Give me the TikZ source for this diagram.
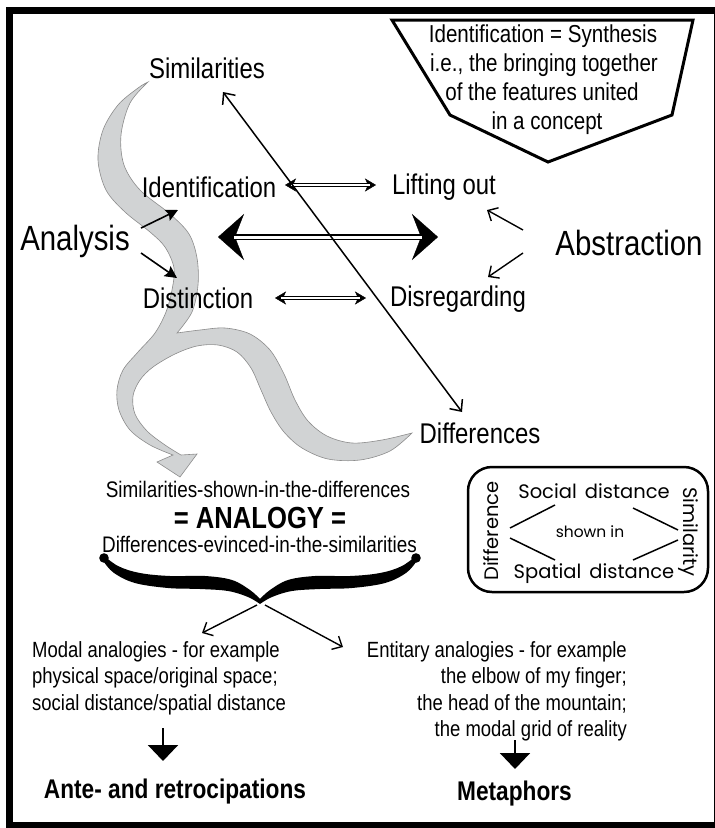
\documentclass[tikz,border=0pt]{standalone}
\usepackage{fontspec}
\setmainfont{Liberation Sans}[FakeStretch=0.84]
\newfontfamily\geo{Poppins}
\usetikzlibrary{arrows.meta}
\definecolor{swoosh}{HTML}{D1D3D4}
\definecolor{swooshedge}{HTML}{8C8C8C}
\begin{document}
\begin{tikzpicture}[x=1pt,y=-1pt,
  lbl/.style={anchor=base, inner sep=0pt, font=\fontsize{28.5}{30}\selectfont},
  bigl/.style={anchor=base, inner sep=0pt, font=\fontsize{35}{38}\selectfont},
  boxt/.style={anchor=base, inner sep=0pt, font=\fontsize{24.5}{29}\selectfont},
  midt/.style={anchor=base, inner sep=0pt, font=\fontsize{22.5}{26}\selectfont},
  leftt/.style={anchor=base west, inner sep=0pt, font=\fontsize{22}{26}\selectfont},
  rightt/.style={anchor=base east, inner sep=0pt, font=\fontsize{22}{26}\selectfont},
  boldt/.style={anchor=base, inner sep=0pt, font=\bfseries\fontsize{27}{30}\selectfont},
  analog/.style={anchor=base, inner sep=0pt, font=\bfseries\fontsize{30.5}{32}\selectfont},
  geot/.style={anchor=base, inner sep=0pt, font=\geo\fontsize{19.5}{22}\selectfont},
  geos/.style={anchor=base, inner sep=0pt, font=\geo\fontsize{15.5}{18}\selectfont},
  barb/.style={line width=1.4pt, -{Straight Barb[length=8pt,width=15pt,line width=1.4pt]}},
  barbs/.style={line width=1.5pt, {Straight Barb[length=9pt,width=16pt,line width=1.5pt]}-{Straight Barb[length=9pt,width=16pt,line width=1.5pt]}},
  filltip/.style={line width=1.6pt, -{Stealth[length=12pt,width=12pt,inset=2pt]}},
  smalltips/.style={line width=0.4pt, {Stealth[length=11pt,width=13pt,inset=3pt]}-{Stealth[length=11pt,width=13pt,inset=3pt]}},
  bigtips/.style={line width=0.4pt, {Stealth[length=26pt,width=46pt,inset=9pt]}-{Stealth[length=26pt,width=46pt,inset=9pt]}},
  dshaft/.style={draw=black, double=white, line width=1pt, double distance=2.4pt},
  bshaft/.style={draw=black, double=white, line width=1.5pt, double distance=3pt},
  downarr/.style={line width=2.2pt, -{Triangle[length=16pt,width=30pt]}},
  boxline/.style={line width=1.5pt}
]
\useasboundingbox (0,0) rectangle (715,828);
\fill[white] (0,0) rectangle (715,828);
% frame
\draw[line width=7pt] (9,10) rectangle (717,825);

% swoosh
\filldraw[fill=swoosh, draw=swooshedge, line width=0.6pt]
 plot[smooth, tension=0.55] coordinates {(148,82) (130,103) (121,135) (124,165) (140,190) (170,214) (189,234) (197,258) (198,285) (192,312) (177,333)}
 -- plot[smooth, tension=0.55] coordinates {(177,333) (200,330) (225,328) (250,334) (270,350) (284,374) (295,400) (308,421) (327,436) (352,443) (382,440) (412,433)}
 -- plot[smooth, tension=0.55] coordinates {(412,433) (390,451) (360,460) (328,459) (302,448) (284,432) (271,412) (261,390) (251,368) (237,352) (218,345) (197,346) (175,354) (153,367) (140,380) (133,396) (135,414) (147,431) (165,445) (181,455)}
 -- (197,454) -- (180,477) -- (157,462) -- (173,455)
 -- plot[smooth, tension=0.55] coordinates {(173,455) (150,445) (130,430) (119,410) (117,390) (123,370) (138,352) (155,333) (166,312) (172,290) (174,268) (165,247) (150,232) (125,212) (106,190) (98,160) (103,130) (118,105) (138,88) (148,82)}
 -- cycle;

% top pentagon
\draw[line width=3pt, line join=miter] (392,20) -- (693,20) -- (672,115) -- (548,162) -- (450,115) -- cycle;
\node[boxt] (syn1) at (543,42) {Identification = Synthesis};
\node[boxt] (syn2) at (544,71) {i.e., the bringing together};
\node[boxt] (syn3) at (542,100) {of the features united};
\node[boxt] (syn4) at (547,129) {in a concept};

% labels
\node[lbl] (sim) at (207,78) {Similarities};
\node[lbl] (ident) at (209,197) {Identification};
\node[lbl] (lift) at (444,194) {Lifting out};
\node[lbl] (dist) at (198,308) {Distinction};
\node[lbl] (disr) at (458,306) {Disregarding};
\node[lbl] (diff) at (480,443) {Differences};
\node[bigl] (ana) at (75,250) {Analysis};
\node[bigl] (abs) at (629,255) {Abstraction};

% coordinates for connectors
\coordinate (il1) at (285,185); \coordinate (il2) at (376,185);
\coordinate (bg1) at (218,237); \coordinate (bg2) at (438,237);
\coordinate (dd1) at (275,298); \coordinate (dd2) at (366,298);
\coordinate (simtip) at (223,92); \coordinate (difftip) at (462,412);
\coordinate (an1) at (141,228); \coordinate (an1e) at (178,210);
\coordinate (an2) at (141,253); \coordinate (an2e) at (177,278);
\coordinate (ab1) at (523,230); \coordinate (ab1e) at (487,210);
\coordinate (ab2) at (523,253); \coordinate (ab2e) at (488,277);

% double arrows
\draw[smalltips] (il1) -- (il2);
\draw[dshaft, shorten <=6pt, shorten >=6pt] (il1) -- (il2);
\draw[bigtips] (bg1) -- (bg2);
\draw[bshaft, shorten <=16pt, shorten >=16pt] (bg1) -- (bg2);
\draw[smalltips] (dd1) -- (dd2);
\draw[dshaft, shorten <=6pt, shorten >=6pt] (dd1) -- (dd2);

% diagonal
\draw[barbs] (simtip) -- (difftip);

% analysis / abstraction arrows
\draw[filltip] (an1) -- (an1e);
\draw[filltip] (an2) -- (an2e);
\draw[barb] (ab1) -- (ab1e);
\draw[barb] (ab2) -- (ab2e);

% analogy texts
\node[midt] (t1) at (258,497) {Similarities-shown-in-the-differences};
\node[analog] (t2) at (260,528) {= ANALOGY =};
\node[midt] (t3) at (259.5,552) {Differences-evinced-in-the-similarities};

% brace
\fill plot[smooth, tension=0.6] coordinates {(102,554) (118,566) (140,573) (170,576) (205,576) (232,580) (250,590) (260,599)}
 -- plot[smooth, tension=0.6] coordinates {(260,599) (270,590) (288,580) (315,576) (350,576) (380,573) (402,566) (418,554)}
 -- plot[smooth, tension=0.6] coordinates {(416,562) (406,573) (385,583) (352,588) (320,589) (292,591) (272,597) (260,604)}
 -- plot[smooth, tension=0.6] coordinates {(260,604) (248,597) (228,591) (200,589) (168,588) (135,583) (114,573) (104,562)}
 -- cycle;
\fill (104,558) circle (4.8pt);
\fill (416,558) circle (4.8pt);

\coordinate (bp1) at (257,605); \coordinate (bp1e) at (202,633);
\coordinate (bp2) at (265,605); \coordinate (bp2e) at (343,647);
\draw[barb] (bp1) -- (bp1e);
\draw[barb] (bp2) -- (bp2e);

% lower texts
\node[leftt] (m1) at (32,657) {Modal analogies - for example};
\node[leftt] (m2) at (32,683.5) {physical space/original space;};
\node[leftt] (m3) at (32,710) {social distance/spatial distance};
\node[rightt] (e1) at (627,657) {Entitary analogies - for example};
\node[rightt] (e2) at (627,683.5) {the elbow of my finger;};
\node[rightt] (e3) at (627,710) {the head of the mountain;};
\node[rightt] (e4) at (627,736) {the modal grid of reality};

\coordinate (da1) at (163,728); \coordinate (da1e) at (163,761);
\coordinate (da2) at (515,740); \coordinate (da2e) at (515,769);
\draw[downarr] (da1) -- (da1e);
\draw[downarr] (da2) -- (da2e);

\node[boldt] (ante) at (175,798) {Ante- and retrocipations};
\node[boldt] (meta) at (514.5,800) {Metaphors};

% rounded box
\draw[line width=2.5pt, rounded corners=24pt] (468,467) rectangle (708,592);
\node[geot] (soc) at (594,498) {Social\hspace{8pt}distance};
\node[geos] (shown) at (590,537) {shown in};
\node[geot] (spa) at (594,578) {Spatial\hspace{8pt}distance};
\node[geot, rotate=90] (difb) at (498,531) {Difference};
\node[geot, rotate=-90] (simb) at (683,532) {Similarity};
\draw[boxline] (510,528) -- (555,505);
\draw[boxline] (510,538) -- (555,560);
\draw[boxline] (633,508) -- (678,530);
\draw[boxline] (633,560) -- (678,540);
\end{tikzpicture}
\end{document}
